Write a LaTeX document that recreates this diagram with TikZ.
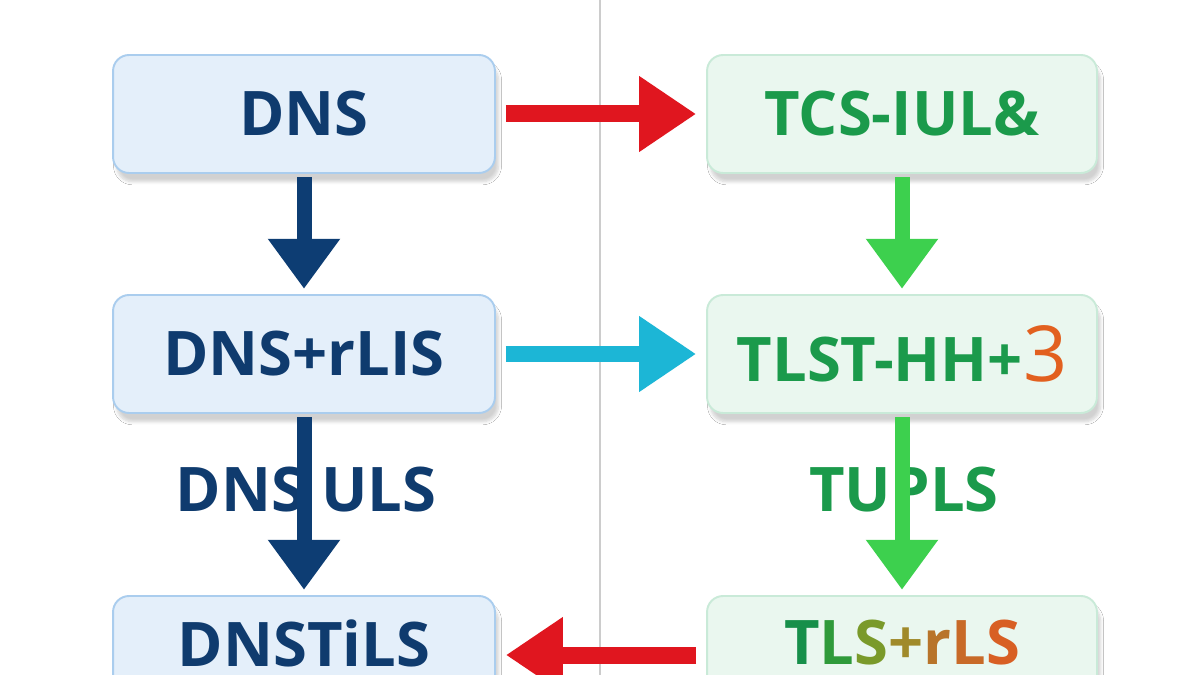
\documentclass[tikz,border=0pt]{standalone}
\usepackage{fontspec}
\setsansfont{Open Sans}
\usetikzlibrary{arrows.meta,shadows.blur}
\definecolor{navy}{HTML}{0F3B6E}
\definecolor{arrowblue}{HTML}{0D3D73}
\definecolor{boxblue}{HTML}{E4EFFA}
\definecolor{lineblue}{HTML}{AACDEE}
\definecolor{boxgreen}{HTML}{EAF7EF}
\definecolor{linegreen}{HTML}{C9EAD8}
\definecolor{textgreen}{HTML}{1B9A4B}
\definecolor{arrowgreen}{HTML}{3DD04E}
\definecolor{arrowred}{HTML}{E0161F}
\definecolor{arrowcyan}{HTML}{1CB6D6}
\definecolor{orangethree}{HTML}{E2601F}
\begin{document}
\begin{tikzpicture}[x=0.02cm,y=-0.02cm,
  box/.style={draw, rounded corners=0.32cm, line width=1.1pt, minimum height=2.36cm,
    font=\sffamily\bfseries\fontsize{35}{38}\selectfont,
    blur shadow={shadow xshift=2pt, shadow yshift=-5pt, shadow opacity=18, shadow blur steps=6}},
  leftbox/.style={box, fill=boxblue, draw=lineblue, text=navy, minimum width=7.64cm},
  rightbox/.style={box, fill=boxgreen, draw=linegreen, text=textgreen, minimum width=7.8cm},
  lowbox/.style={text depth=14pt},
  midlabel/.style={font=\sffamily\bfseries\fontsize{35}{38}\selectfont},
  downarrow/.style={line width=0.3cm, -{Triangle[length=1cm,width=1.38cm]}, shorten <=2pt, shorten >=3pt},
  sidearrow/.style={line width=0.34cm, -{Triangle[length=1.14cm,width=1.44cm]}, shorten <=0.2cm, shorten >=0.2cm}]
\useasboundingbox (0,0) rectangle (1200,675);
\fill[white] (0,0) rectangle (1200,675);
\draw[line width=0.8pt, gray!40] (600,0) -- (600,675);
\node[leftbox] (dns) at (304,114) {DNS};
\node[leftbox] (dnsrlis) at (304,354) {DNS+rLIS};
\node[leftbox, lowbox] (dnstils) at (304,655) {DNSTiLS};
\node[rightbox] (tcs) at (902,114) {TCS-IUL\&};
\node[rightbox] (tlst) at (902,354) {TLST-HH+{\color{orangethree}\fontsize{44}{46}\selectfont\mdseries 3}};
\node[rightbox, lowbox] (tlsrls) at (902,655) {{\color[HTML]{178F4A}T}{\color[HTML]{2F9A3A}L}{\color[HTML]{7A9A2A}S}{\color[HTML]{A08A2A}+}{\color[HTML]{B8742A}r}{\color[HTML]{C86A28}L}{\color[HTML]{D85F24}S}};
\node[midlabel, text=navy] (dnsuls) at (306,490) {DNS ULS};
\node[midlabel, text=textgreen] (tupls) at (904,490) {TUPLS};
\draw[downarrow, arrowblue] (dns.south) -- (dnsrlis.north);
\draw[downarrow, arrowblue] (dnsrlis.south) -- (dnstils.north);
\draw[downarrow, arrowgreen] (tcs.south) -- (tlst.north);
\draw[downarrow, arrowgreen] (tlst.south) -- (tlsrls.north);
\draw[sidearrow, arrowred] (dns.east) -- (tcs.west);
\draw[sidearrow, arrowcyan] (dnsrlis.east) -- (tlst.west);
\draw[sidearrow, arrowred] (tlsrls.west) -- (dnstils.east);
\end{tikzpicture}
\end{document}
